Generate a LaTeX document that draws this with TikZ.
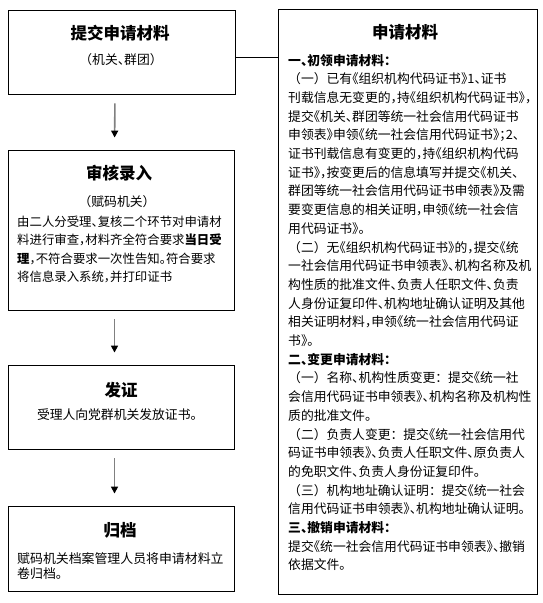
\documentclass[tikz,border=0pt]{standalone}
\usepackage{fontspec}
\setmainfont{Noto Sans CJK SC}
\usepackage{tikz}
\usetikzlibrary{arrows.meta,positioning}
% half-width CJK punctuation, so the lines keep the reference breaks
\catcode`，=\active \def，{\makebox[.5em][l]{\char"FF0C}}
\catcode`、=\active \def、{\makebox[.5em][l]{\char"3001}}
\catcode`。=\active \def。{\makebox[.5em][l]{\char"3002}}
\catcode`；=\active \def；{\makebox[.5em][l]{\char"FF1B}}
\catcode`《=\active \def《{\makebox[.5em][r]{\char"300A}}
\catcode`》=\active \def》{\makebox[.5em][l]{\char"300B}}
\tikzset{
  >={Triangle[length=7pt,width=7pt,color=black]},
  frame/.style={draw=black, line width=0.9pt, inner sep=0pt},
  stepbox/.style={frame, minimum width=226pt},
  ttl/.style={font=\fontsize{16.5}{18}\selectfont\bfseries, inner sep=0pt},
  sub/.style={font=\fontsize{12.8}{15}\selectfont, inner sep=0pt},
  body/.style 2 args={font=\fontsize{#1}{#2}\selectfont, inner sep=0pt, align=left, anchor=north west},
  flowarr/.style={->, draw=black!50, line width=1.6pt, shorten <=9pt, shorten >=12pt},
  link/.style={draw=black, line width=0.9pt},
}
\begin{document}
\begin{tikzpicture}[x=1pt,y=1pt]
  \useasboundingbox (0,0) rectangle (543,603);
  % ============ the four steps ============
  \node[stepbox, minimum width=227pt, minimum height=84pt] (submit) at (121.5,551) {};
  \node[stepbox, minimum height=160pt] (review) at (121,373) {};
  \node[stepbox, minimum height=84pt] (issue) at (121,196) {};
  \node[stepbox, minimum height=85pt] (archive) at (121,54.5) {};
  \foreach \a/\b in {submit/review,review/issue,issue/archive}{
    \draw[flowarr] ([xshift=-6.5pt]\a.south) -- ([xshift=-6.5pt]\b.north);}
  \node[ttl] (submitT) at (120,570) {提交申请材料};
  \node[sub] (submitS) at (121,543) {（机关、群团）};
  \node[ttl] (reviewT) at (119,430) {审核录入};
  \node[sub] (reviewS) at (117,401) {（赋码机关）};
  \node[body={12.4}{18.3}] (reviewB) at (17,387.2)
    {由二人分受理、复核二个环节对申请材\\
     料进行审查，材料齐全符合要求\textbf{当日受}\\
     \textbf{理}，不符合要求一次性告知。符合要求\\
     将信息录入系统，并打印证书};
  \node[ttl] (issueT) at (121,213) {发证};
  \node[sub] (issueS) at (117,188) {受理人向党群机关发放证书。};
  \node[ttl] (archiveT) at (120,73) {归档};
  \node[body={12.9}{15}] (archiveB) at (17,51)
    {赋码机关档案管理人员将申请材料立\\卷归档。};
  % ============ list of materials ============
  \node[frame, minimum width=259pt, minimum height=585pt] (materials) at (407.5,301.5) {};
  \draw[link] ([yshift=-5pt]submit.east) -- ([yshift=-5pt]submit.east -| materials.west);
  \node[ttl] (materialsT) at (405,571) {申请材料};
  \node[body={12.8}{18.7}] (materialsB) at (288,549.2)
    {\textbf{一、初领申请材料：}\\
     （一）已有《组织机构代码证书》1、证书\\
     刊载信息无变更的，持《组织机构代码证书》，\\
     提交《机关、群团等统一社会信用代码证书\\
     申领表》申领《统一社会信用代码证书》；2、\\
     证书刊载信息有变更的，持《组织机构代码\\
     证书》，按变更后的信息填写并提交《机关、\\
     群团等统一社会信用代码证书申领表》及需\\
     要变更信息的相关证明，申领《统一社会信\\
     用代码证书》。\\
     （二）无《组织机构代码证书》的，提交《统\\
     一社会信用代码证书申领表》、机构名称及机\\
     构性质的批准文件、负责人任职文件、负责\\
     人身份证复印件、机构地址确认证明及其他\\
     相关证明材料，申领《统一社会信用代码证\\
     书》。\\
     \textbf{二、变更申请材料：}\\
     （一）名称、机构性质变更：提交《统一社\\
     会信用代码证书申领表》、机构名称及机构性\\
     质的批准文件。\\
     （二）负责人变更：提交《统一社会信用代\\
     码证书申领表》、负责人任职文件、原负责人\\
     的免职文件、负责人身份证复印件。\\
     （三）机构地址确认证明：提交《统一社会\\
     信用代码证书申领表》、机构地址确认证明。\\
     \textbf{三、撤销申请材料：}\\
     提交《统一社会信用代码证书申领表》、撤销\\
     依据文件。};
\end{tikzpicture}
\end{document}
